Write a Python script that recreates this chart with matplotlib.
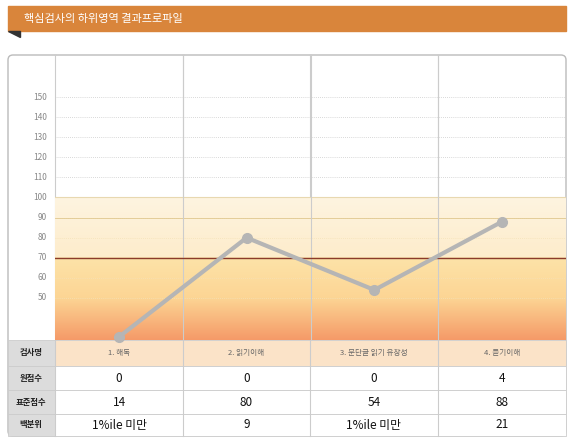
import numpy as np
import matplotlib
matplotlib.use("Agg")
import matplotlib.pyplot as plt
from matplotlib.patches import Rectangle, FancyBboxPatch, Polygon
from matplotlib.colors import LinearSegmentedColormap

plt.rcParams['font.family'] = ['Noto Sans CJK KR', 'DejaVu Sans']

title = "핵심검사의 하위영역 결과프로파일"
categories = ["1. 해독", "2. 읽기이해", "3. 문단글 읽기 유창성", "4. 듣기이해"]
raw_scores = ["0", "0", "0", "4"]
std_scores = [14, 80, 54, 88]
percentiles = ["1%ile 미만", "9", "1%ile 미만", "21"]
row_labels = ["검사명", "원점수", "표준점수", "백분위"]
yticks = [50, 60, 70, 80, 90, 100, 110, 120, 130, 140, 150]

W, H = 573, 442
fig = plt.figure(figsize=(W/100, H/100), dpi=100)
bg = fig.add_axes([0, 0, 1, 1])
bg.set_xlim(0, W); bg.set_ylim(H, 0); bg.axis('off')

bg.add_patch(Rectangle((8, 6), 558, 25, color='#d9853b'))
bg.add_patch(Polygon([(8, 31), (20, 31), (20, 37)], color='#333333'))
bg.text(24, 19, title, color='white', fontsize=8, va='center')

bg.add_patch(FancyBboxPatch((8, 55), 558, 381, boxstyle="round,pad=0,rounding_size=5",
                            fc='white', ec='#bbbbbb', lw=1))

rows_y = [340, 366, 390, 414, 436]
col_x = [8, 55, 183, 310, 438, 566]
for r in range(4):
    y0, y1 = rows_y[r], rows_y[r+1]
    bg.add_patch(Rectangle((8, y0), 47, y1-y0, fc='#dcdcdc', ec='#cccccc', lw=0.6))
    bg.add_patch(Rectangle((55, y0), 511, y1-y0, fc='#fbe3c8' if r == 0 else 'white',
                           ec='#cccccc', lw=0.6))
    bg.text(31, (y0+y1)/2, row_labels[r], fontsize=6, ha='center', va='center',
            color='#222222', fontweight='bold')
for c in range(4):
    xc = (col_x[c+1] + col_x[c+2]) / 2
    for r, vals in enumerate([categories, raw_scores, [str(v) for v in std_scores], percentiles]):
        y0, y1 = rows_y[r], rows_y[r+1]
        bg.text(xc, (y0+y1)/2, vals[c], ha='center', va='center',
                fontsize=5.5 if r == 0 else 8.5, color='#666666' if r == 0 else '#111111')
for x in col_x[1:-1]:
    bg.plot([x, x], [55, 436], color='#cccccc', lw=0.8)

ax = fig.add_axes([55/W, 1-340/H, 511/W, 285/H])
ax.patch.set_alpha(0)
px_per = (298-97)/100.0
ybot = 50 - (340-298)/px_per
ytop = 150 + (97-55)/px_per
ax.set_xlim(0, 4); ax.set_ylim(ybot, ytop)
cmap = LinearSegmentedColormap.from_list('b', [
    (0.0, '#f59a68'), ((50-ybot)/(100-ybot), '#fcd594'),
    ((70-ybot)/(100-ybot), '#fde3a8'), ((70.01-ybot)/(100-ybot), '#fdeccb'),
    (1.0, '#fef4e0')])
grad = np.linspace(0, 1, 512).reshape(-1, 1)
ax.imshow(grad, extent=[0, 4, ybot, 100], origin='lower', aspect='auto', cmap=cmap, zorder=0)
for t in yticks:
    ax.axhline(t, color='#cccccc' if t > 100 else '#f5e2b8', lw=0.6, ls=(0, (1, 1.5)), zorder=1)
ax.axhline(100, color='#e8d8b0', lw=0.8, zorder=1)
ax.axhline(90, color='#e0c890', lw=0.6, zorder=1)
ax.axhline(70, color='#8b3a2a', lw=1, zorder=2)
for x in [1, 2, 3]:
    ax.axvline(x, color='#cccccc', lw=0.8, zorder=1)
xs = np.arange(4) + 0.5
ys = np.maximum(np.array(std_scores, float), ybot + 1.5)
ax.plot(xs, ys, color='#b5b5b5', lw=3, marker='o', ms=7, zorder=3, clip_on=False)
ax.axis('off')
for t in yticks:
    bg.text(47, 298 - (t-50)*px_per, str(t), ha='right', va='center', fontsize=6, color='#888888')

fig.savefig('out.png', dpi=100)
